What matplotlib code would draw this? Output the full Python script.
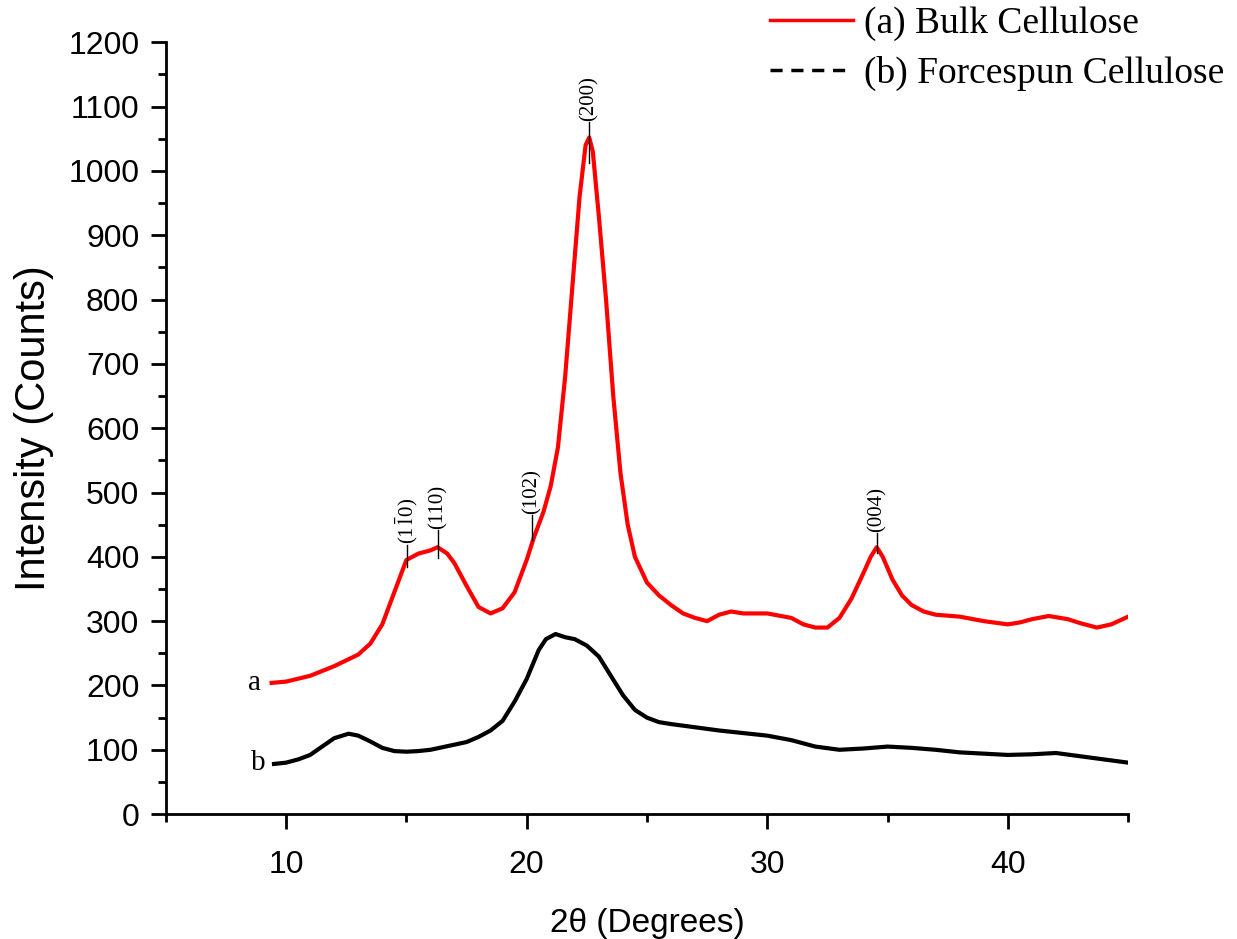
import matplotlib
matplotlib.use("Agg")
import matplotlib.pyplot as plt
from matplotlib.lines import Line2D
from matplotlib.ticker import MultipleLocator

# =============================================================================
# DATA
# =============================================================================

bulk_x = [9.4, 10, 11, 12, 13, 13.5, 14, 14.5, 15, 15.5, 16, 16.3, 16.7, 17,
          17.5, 18, 18.5, 19, 19.5, 20, 20.3, 20.7, 21, 21.3, 21.6, 21.9, 22.2,
          22.45, 22.6, 22.75, 23.0, 23.3, 23.6, 23.9, 24.2, 24.5, 25, 25.5, 26,
          26.5, 27, 27.5, 28, 28.5, 29, 30, 31, 31.5, 32, 32.5, 33, 33.5, 34,
          34.3, 34.55, 34.8, 35.2, 35.6, 36, 36.5, 37, 38, 39, 40, 40.5, 41,
          41.7, 42.5, 43, 43.7, 44.3, 45]
bulk_y = [204, 206, 215, 230, 248, 265, 295, 345, 395, 405, 410, 415, 405, 390,
          355, 322, 312, 320, 345, 395, 430, 470, 510, 570, 680, 820, 960,
          1040, 1052, 1030, 930, 800, 650, 530, 450, 400, 360, 340, 325,
          312, 305, 300, 310, 315, 312, 312, 305, 295, 290, 290, 305, 335, 375,
          400, 415, 400, 365, 340, 325, 315, 310, 307, 300, 295, 298, 303,
          308, 303, 297, 290, 295, 307]

spun_x = [9.5, 10, 10.5, 11, 11.5, 12, 12.6, 13, 13.5, 14, 14.5, 15, 15.5, 16,
          16.5, 17, 17.5, 18, 18.5, 19, 19.5, 20, 20.5, 20.8, 21.2, 21.6, 22,
          22.5, 23, 23.5, 24, 24.5, 25, 25.5, 26, 27, 28, 29, 30, 31, 32, 33,
          34, 35, 36, 37, 38, 39, 40, 41, 42, 43, 44, 45]
spun_y = [78, 80, 85, 92, 105, 118, 125, 122, 113, 103, 98, 97, 98, 100,
          104, 108, 112, 120, 130, 145, 175, 210, 255, 272, 280, 275, 272,
          262, 245, 215, 185, 162, 150, 143, 140, 135, 130, 126, 122, 115, 105, 100,
          102, 105, 103, 100, 96, 94, 92, 93, 95, 90, 85, 80]

# peak labels: text, 2theta, tick bottom, tick top
peak_names = [r"(1$\bar{1}$0)", "(110)", "(102)", "(200)", "(004)"]
peak_pos = [15.03, 16.32, 20.23, 22.6, 34.55]
peak_lo = [384, 398, 426, 1012, 406]
peak_hi = [418, 441, 465, 1076, 437]

# =============================================================================
# PLOT
# =============================================================================

plt.rcParams["mathtext.fontset"] = "stix"

fig = plt.figure(figsize=(12.37, 9.39), dpi=100)
ax = fig.add_axes([0.134, 0.133, 0.778, 0.822])

ax.plot(bulk_x, bulk_y, color="red", lw=3)
ax.plot(spun_x, spun_y, color="black", lw=3)

ax.set_xlim(5, 45)
ax.set_ylim(0, 1200)
ax.xaxis.set_major_locator(MultipleLocator(10))
ax.xaxis.set_minor_locator(MultipleLocator(5))
ax.yaxis.set_major_locator(MultipleLocator(100))
ax.yaxis.set_minor_locator(MultipleLocator(50))

for s in ["top", "right"]:
    ax.spines[s].set_visible(False)
for s in ["left", "bottom"]:
    ax.spines[s].set_linewidth(2)

ax.tick_params(which="major", direction="out", length=11, width=2,
               labelsize=23, pad=8)
ax.tick_params(axis="x", which="major", pad=15)
ax.tick_params(which="minor", direction="out", length=6, width=2)
for lab in ax.get_xticklabels() + ax.get_yticklabels():
    lab.set_fontfamily("Liberation Sans")

ax.set_xlabel("2\u03b8 (Degrees)", fontsize=24, family="Liberation Sans",
              labelpad=20)
ax.set_ylabel("Intensity (Counts)", fontsize=30, family="Liberation Sans",
              labelpad=10)

# peak markers
for name, x, lo, hi in zip(peak_names, peak_pos, peak_lo, peak_hi):
    ax.plot([x, x], [lo, hi], color="black", lw=1)
    ax.text(x, hi + 2, name, rotation=90, ha="center", va="bottom",
            fontsize=15, family="Liberation Serif")

# curve letters
ax.text(8.7, 204, "a", fontsize=21, family="Liberation Serif",
        ha="center", va="center")
ax.text(8.85, 79, "b", fontsize=21, family="Liberation Serif",
        ha="center", va="center")

handles = [Line2D([], [], color="red", lw=2.5),
           Line2D([], [], color="black", lw=2.5, ls=(0, (3.5, 2.5)))]
fig.legend(handles, ["(a) Bulk Cellulose", "(b) Forcespun Cellulose"],
           loc="upper right", bbox_to_anchor=(1.017, 1.029), frameon=False,
           prop={"family": "Liberation Serif", "size": 27},
           handlelength=2.2, handletextpad=0.3, labelspacing=0.4)

fig.savefig("out.png", dpi=100)
